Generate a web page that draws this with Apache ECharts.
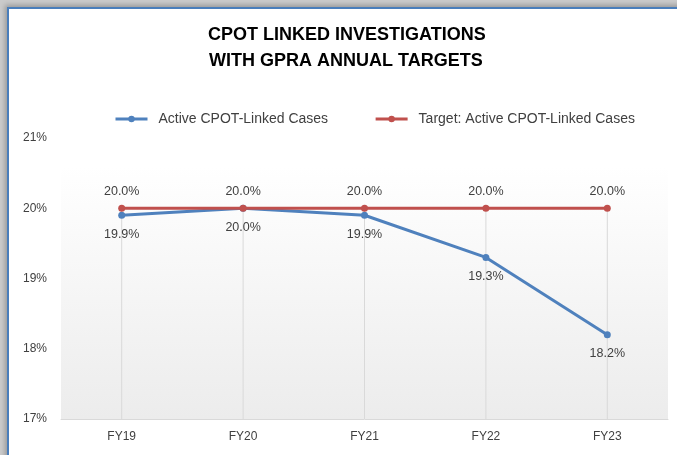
<!DOCTYPE html>
<html>
<head>
<meta charset="utf-8">
<script src="https://cdn.jsdelivr.net/npm/echarts@6/dist/echarts.min.js"></script>
<style>
  html, body { margin: 0; padding: 0; width: 677px; height: 455px; overflow: hidden; background: #cbcbcb; }
  #frame { position: absolute; left: 7px; top: 7px; width: 720px; height: 520px; background: #ffffff; border: 2px solid #4a7ebb; box-shadow: -2px -2px 5px rgba(0,0,0,0.25); }
  #chart { position: absolute; left: 0; top: 0; width: 677px; height: 455px; }
</style>
</head>
<body>
<div id="frame"></div>
<div id="chart"></div>
<script>
const categories = ['FY19', 'FY20', 'FY21', 'FY22', 'FY23'];
const activeCases = [19.9, 20.0, 19.9, 19.3, 18.2];
const targetCases = [20.0, 20.0, 20.0, 20.0, 20.0];
const yTicks = [17, 18, 19, 20, 21];
const titleLines = ['CPOT LINKED INVESTIGATIONS', 'WITH GPRA ANNUAL TARGETS'];
const seriesNames = ['Active CPOT-Linked Cases', 'Target: Active CPOT-Linked Cases'];

const dropLines = categories.map((c, i) => Math.max(activeCases[i], targetCases[i]));
const FONT = '"Liberation Sans", Arial, sans-serif';
const TXT = '#404040';

const chart = echarts.init(document.getElementById('chart'), null, { renderer: 'canvas' });
chart.setOption({
  backgroundColor: 'transparent',
  animation: false,
  graphic: [
    { type: 'text', left: 208, top: 26, style: { text: titleLines[0], fill: '#000', font: 'bold 18px ' + FONT } },
    { type: 'text', left: 209, top: 52, style: { text: titleLines[1], fill: '#000', font: 'bold 18px ' + FONT } }
  ],
  legend: {
    data: seriesNames,
    left: 114,
    top: 112,
    padding: 0,
    itemWidth: 32,
    itemHeight: 8,
    itemGap: 46,
    lineStyle: { width: 3 },
    textStyle: { fontFamily: FONT, fontSize: 14, color: TXT, padding: [0, 0, 0, 6] }
  },
  grid: {
    left: 61, right: 9, top: 138, bottom: 36,
    show: true,
    borderWidth: 0,
    backgroundColor: new echarts.graphic.LinearGradient(0, 0, 0, 1, [
      { offset: 0, color: '#ffffff' },
      { offset: 0.1, color: '#ffffff' },
      { offset: 1, color: '#ececec' }
    ])
  },
  xAxis: {
    type: 'category',
    data: categories,
    boundaryGap: true,
    axisLine: { lineStyle: { color: '#d9d9d9', width: 1 } },
    axisTick: { show: false },
    axisLabel: { fontFamily: FONT, fontSize: 12, color: TXT, margin: 12 },
    splitLine: { show: false }
  },
  yAxis: {
    type: 'value',
    min: yTicks[0],
    max: yTicks[yTicks.length - 1],
    interval: 1,
    axisLine: { show: false },
    axisTick: { show: false },
    splitLine: { show: false },
    axisLabel: { fontFamily: FONT, fontSize: 12, color: TXT, margin: 14, formatter: '{value}%' }
  },
  series: [
    {
      name: 'drop',
      type: 'bar',
      data: dropLines,
      barWidth: 1,
      silent: true,
      itemStyle: { color: '#d9d9d9' },
      z: 1
    },
    {
      name: seriesNames[0],
      type: 'line',
      data: activeCases,
      symbol: 'circle',
      symbolSize: 7,
      lineStyle: { color: '#4f81bd', width: 3 },
      itemStyle: { color: '#4f81bd' },
      label: {
        show: true, position: 'bottom', distance: 9,
        fontFamily: FONT, fontSize: 12.5, color: TXT,
        formatter: p => p.value.toFixed(1) + '%'
      },
      z: 3
    },
    {
      name: seriesNames[1],
      type: 'line',
      data: targetCases,
      symbol: 'circle',
      symbolSize: 7,
      lineStyle: { color: '#c0504d', width: 3 },
      itemStyle: { color: '#c0504d' },
      label: {
        show: true, position: 'top', distance: 7,
        fontFamily: FONT, fontSize: 12.5, color: TXT,
        formatter: p => p.value.toFixed(1) + '%'
      },
      z: 4
    }
  ]
});
</script>
</body>
</html>
